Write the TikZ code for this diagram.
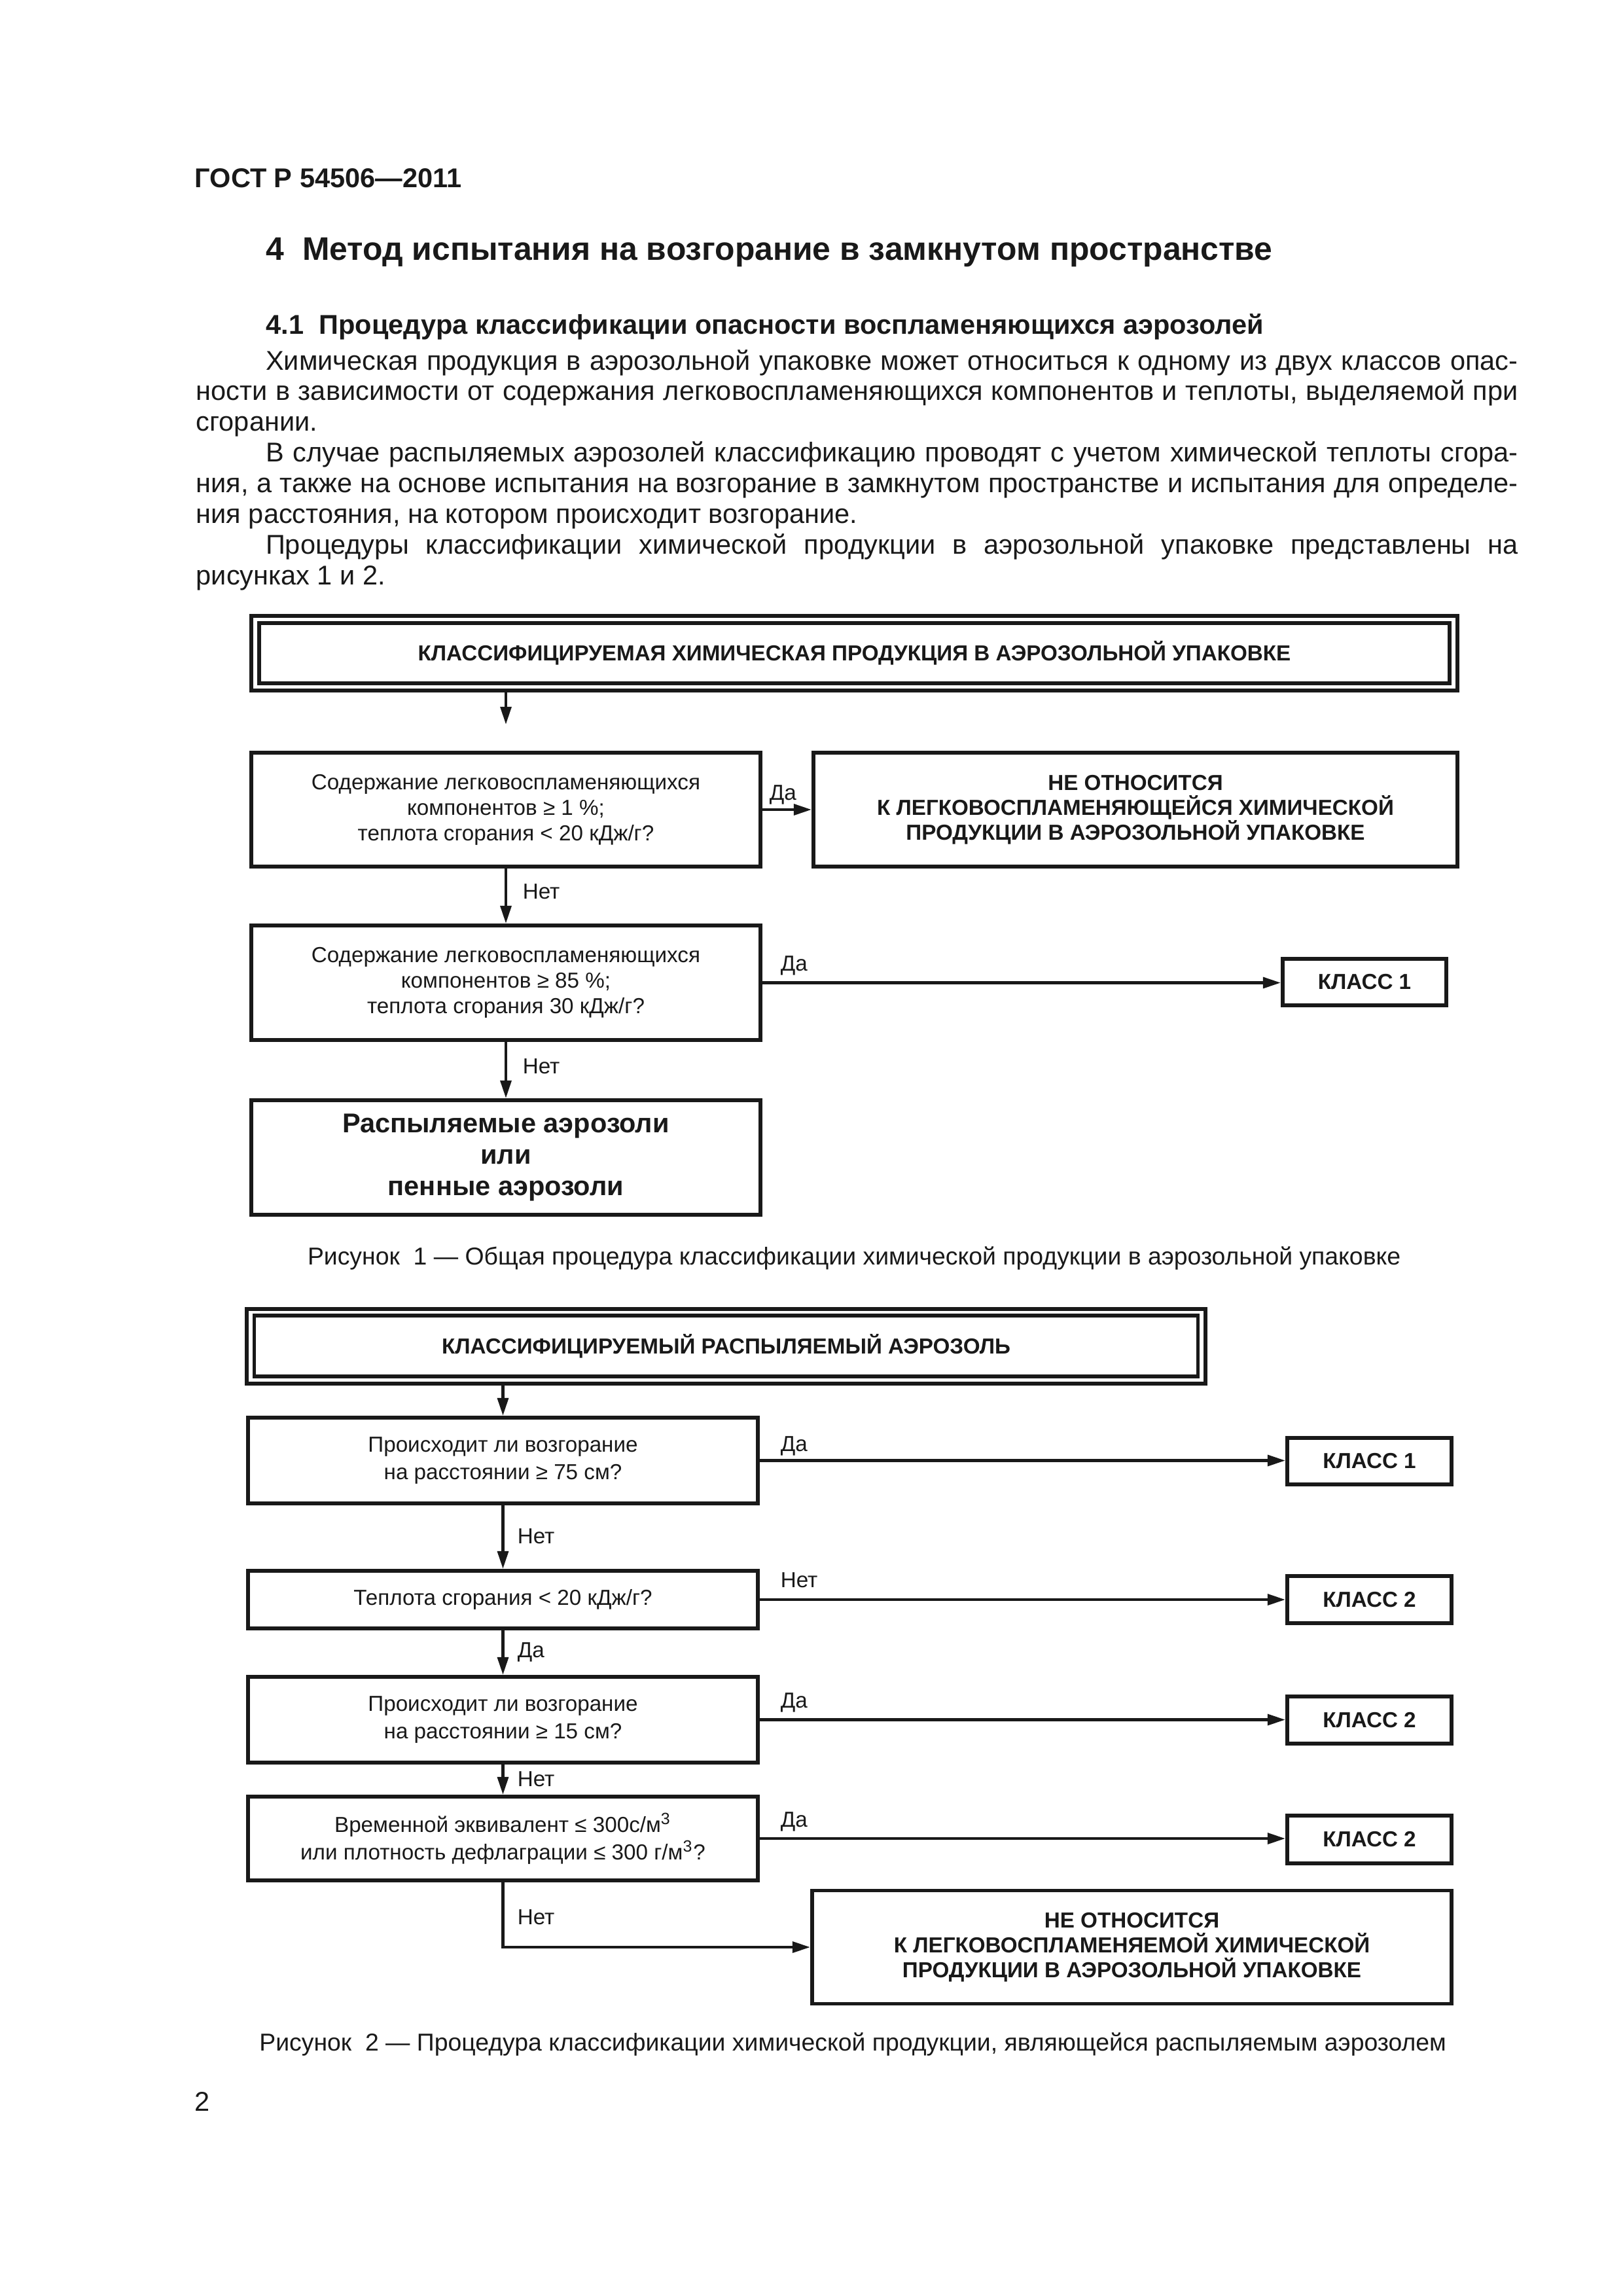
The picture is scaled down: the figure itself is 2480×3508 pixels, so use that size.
\documentclass[tikz,border=0pt]{standalone}
\usepackage{fontspec}
\setmainfont{Liberation Sans}
\usetikzlibrary{arrows.meta,calc}
\definecolor{ink}{rgb}{0.1,0.1,0.1}
\def\pxu{0.0846667mm}
\begin{document}
\begin{tikzpicture}[x=0.0846667mm,y=-0.0846667mm,
  every node/.style={text=ink, inner sep=0pt},
  frame/.style={draw=ink, line width=1.4pt},
  qbox/.style={draw=ink, line width=1.4pt, align=center, font=\fontsize{8}{9.4}\selectfont, minimum width=778*\pxu},
  qboxb/.style={draw=ink, line width=1.4pt, align=center, font=\fontsize{8}{10.1}\selectfont, minimum width=779*\pxu},
  rbox/.style={draw=ink, line width=1.4pt, align=center, font=\bfseries\fontsize{8}{9.2}\selectfont},
  kbox/.style={draw=ink, line width=1.4pt, font=\bfseries\fontsize{8}{9.6}\selectfont, minimum width=251*\pxu, minimum height=72*\pxu},
  arr/.style={draw=ink, line width=1.1pt, -{Triangle[length=2.3mm,width=1.4mm]}},
  lbl/.style={anchor=mid west, font=\fontsize{8}{9.6}\selectfont},
  figcap/.style={anchor=mid, font=\fontsize{9}{11}\selectfont},
]
\useasboundingbox (0,0) rectangle (2480,3508);
\fill[white] (0,0) rectangle (2480,3508);

% header and text
\node[anchor=mid west, font=\bfseries\fontsize{10}{12}\selectfont] (hdr) at (297,276) {ГОСТ Р 54506—2011};
\node[anchor=mid west, font=\bfseries\fontsize{12}{14}\selectfont] (title) at (406,387) {4\ \ Метод испытания на возгорание в замкнутом пространстве};
\node[anchor=mid west, font=\bfseries\fontsize{10}{12}\selectfont] (sub) at (406,500) {4.1\ \ Процедура классификации опасности воспламеняющихся аэрозолей};
\node[anchor=base west, text width=171mm, align=justify, font=\fontsize{10}{11.3}\selectfont] (para) at (299,565)
{\hyphenpenalty=10000\exhyphenpenalty=10000\tolerance=10000\emergencystretch=5mm
\hspace*{9mm}Химическая продукция в аэрозольной упаковке может относиться к одному из двух классов опас-\linebreak
ности в зависимости от содержания легковоспламеняющихся компонентов и теплоты, выделяемой при\linebreak
сгорании.\par
\hspace*{9mm}В случае распыляемых аэрозолей классификацию проводят с учетом химической теплоты сгора-\linebreak
ния, а также на основе испытания на возгорание в замкнутом пространстве и испытания для определе-\linebreak
ния расстояния, на котором происходит возгорание.\par
\hspace*{9mm}Процедуры классификации химической продукции в аэрозольной упаковке представлены на\linebreak
рисунках 1 и 2.};

% ---------------- Figure 1
\node[frame, minimum width=1843*\pxu, minimum height=114*\pxu] (f1) at (1305.5,998) {};
\node[frame, minimum width=1819*\pxu, minimum height=92*\pxu, font=\bfseries\fontsize{8}{9.4}\selectfont] (f1in) at (1305.5,998) {КЛАССИФИЦИРУЕМАЯ ХИМИЧЕСКАЯ ПРОДУКЦИЯ В АЭРОЗОЛЬНОЙ УПАКОВКЕ};
\coordinate (a1) at (773,1107);
\draw[arr] (f1.south -| a1) -- (a1);

\node[qbox, minimum height=174*\pxu] (b1) at (773,1237) {Содержание легковоспламеняющихся\\компонентов ≥ 1 \%;\\теплота сгорания < 20 кДж/г?};
\node[rbox, minimum width=984*\pxu, minimum height=174*\pxu] (b2) at (1735,1237) {НЕ ОТНОСИТСЯ\\К ЛЕГКОВОСПЛАМЕНЯЮЩЕЙСЯ ХИМИЧЕСКОЙ\\ПРОДУКЦИИ В АЭРОЗОЛЬНОЙ УПАКОВКЕ};
\draw[arr] (b1.east) -- (b2.west);
\node[lbl] (l1) at (1175,1212) {Да};

\node[qbox, minimum height=175*\pxu] (b3) at (773,1501.5) {Содержание легковоспламеняющихся\\компонентов ≥ 85 \%;\\теплота сгорания 30 кДж/г?};
\draw[arr] (b1) -- (b3);
\node[lbl] (l2) at (798,1363) {Нет};
\node[kbox, minimum width=250*\pxu, minimum height=71*\pxu] (k1) at (2085,1500.5) {КЛАСС 1};
\draw[arr] (b3.east) -- (b3.east -| k1.west);
\node[lbl] (l3) at (1192,1473) {Да};

\node[draw=ink, line width=1.4pt, align=center, font=\bfseries\fontsize{10}{11.6}\selectfont, minimum width=778*\pxu, minimum height=175*\pxu] (b4) at (773,1768.5) {Распыляемые аэрозоли\\или\\пенные аэрозоли};
\draw[arr] (b3) -- (b4);
\node[lbl] (l4) at (798,1630) {Нет};
\node[figcap] (cap1) at (1305,1922) {Рисунок\ \ 1 — Общая процедура классификации химической продукции в аэрозольной упаковке};

% ---------------- Figure 2
\node[frame, minimum width=1465*\pxu, minimum height=114*\pxu] (f2) at (1109.5,2057) {};
\node[frame, minimum width=1442*\pxu, minimum height=93*\pxu, font=\bfseries\fontsize{8}{9.4}\selectfont] (f2in) at (1109.5,2056.5) {КЛАССИФИЦИРУЕМЫЙ РАСПЫЛЯЕМЫЙ АЭРОЗОЛЬ};

\node[qboxb, minimum height=131*\pxu] (c1) at (768.5,2231.5) {Происходит ли возгорание\\на расстоянии ≥ 75 см?};
\draw[arr] (f2.south -| c1.north) -- (c1.north);
\node[kbox, minimum height=71*\pxu] (k2) at (2092.5,2232.5) {КЛАСС 1};
\draw[arr] (c1.east) -- (c1.east -| k2.west);
\node[lbl] (l5) at (1192,2207) {Да};

\node[qboxb, minimum height=88*\pxu] (c2) at (768.5,2444) {Теплота сгорания < 20 кДж/г?};
\draw[arr] (c1) -- (c2);
\node[lbl] (l6) at (790,2348) {Нет};
\node[kbox] (k3) at (2092.5,2444) {КЛАСС 2};
\draw[arr] (c2.east) -- (c2.east -| k3.west);
\node[lbl] (l7) at (1192,2415) {Нет};

\node[qboxb, minimum height=131*\pxu] (c3) at (768.5,2627.5) {Происходит ли возгорание\\на расстоянии ≥ 15 см?};
\draw[arr] (c2) -- (c3);
\node[lbl] (l8) at (790,2522) {Да};
\node[kbox] (k4) at (2092.5,2628) {КЛАСС 2};
\draw[arr] (c3.east) -- (c3.east -| k4.west);
\node[lbl] (l9) at (1192,2598) {Да};

\node[qboxb, minimum height=128*\pxu] (c4) at (768.5,2809) {Временной эквивалент ≤ 300с/м\textsuperscript{3}\\или плотность дефлаграции ≤ 300 г/м\textsuperscript{3}?};
\draw[arr] (c3) -- (c4);
\node[lbl] (l10) at (790,2718) {Нет};
\node[kbox, minimum height=73*\pxu] (k5) at (2092.5,2810.5) {КЛАСС 2};
\draw[arr] (c4.east) -- (c4.east -| k5.west);
\node[lbl] (l11) at (1192,2780) {Да};

\node[rbox, minimum width=977*\pxu, minimum height=173*\pxu] (c5) at (1729.5,2975) {НЕ ОТНОСИТСЯ\\К ЛЕГКОВОСПЛАМЕНЯЕМОЙ ХИМИЧЕСКОЙ\\ПРОДУКЦИИ В АЭРОЗОЛЬНОЙ УПАКОВКЕ};
\draw[arr] (c4.south) |- (c5.west);
\node[lbl] (l12) at (790,2929) {Нет};
\node[figcap] (cap2) at (1303,3122) {Рисунок\ \ 2 — Процедура классификации химической продукции, являющейся распыляемым аэрозолем};

\node[anchor=mid west, font=\fontsize{10}{12}\selectfont] (pg) at (297,3214) {2};
\end{tikzpicture}
\end{document}
